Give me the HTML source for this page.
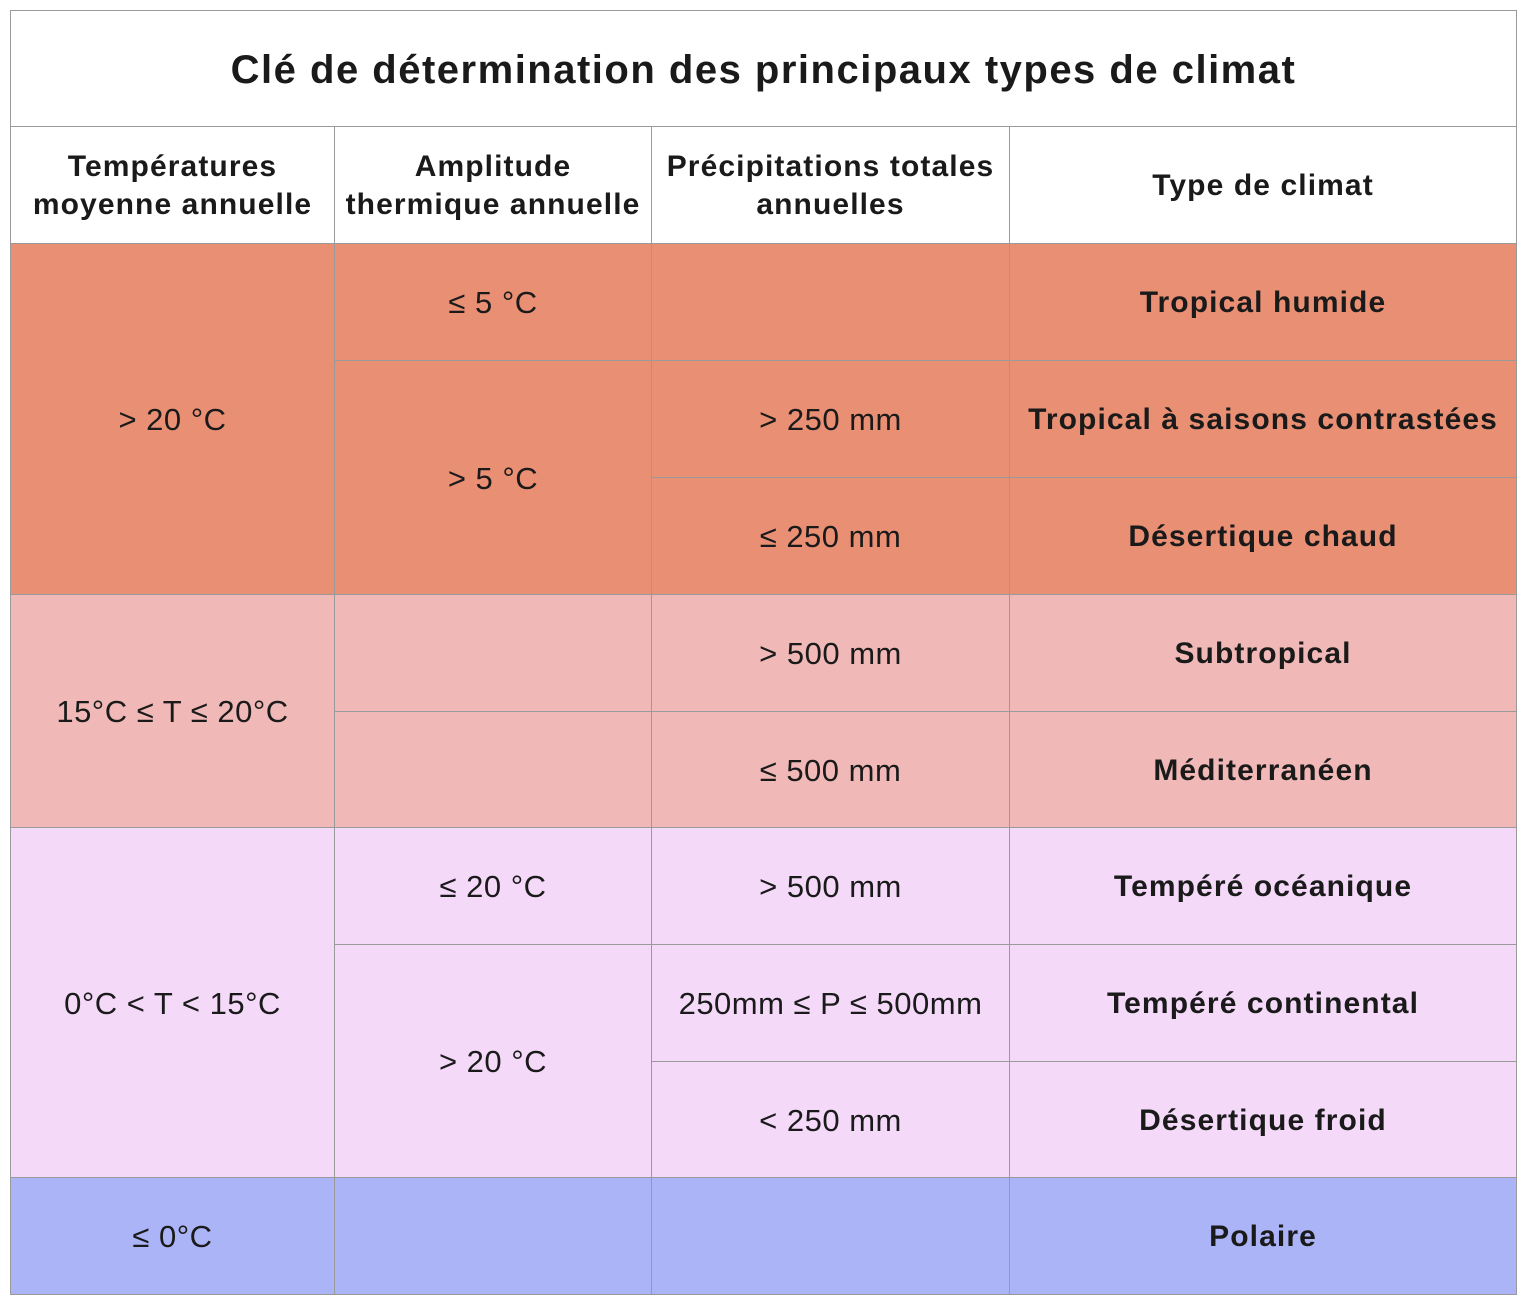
<!DOCTYPE html>
<html><head><meta charset="utf-8"><style>
html,body{margin:0;padding:0;background:#fff;width:1524px;height:1302px;overflow:hidden}
.c{position:absolute;box-sizing:border-box;border:1.5px solid #9a9a9a;display:flex;align-items:center;justify-content:center;text-align:center;font-family:"Liberation Sans",sans-serif;color:#1a1a1a;font-size:31px;letter-spacing:0.5px;line-height:38px;padding-top:2px}
.b{font-weight:bold;font-size:30px;letter-spacing:1.1px}
.h{font-weight:bold;font-size:30px;letter-spacing:1.1px;background:#fff}
.o{background:#e98f74}.p{background:#f0b9b7}.l{background:#f4d9f9}.u{background:#aab4f6}
</style></head><body>
<div id="t"></div>
<script>
const X=[10,334,651,1009,1516];
const Y=[10,126,243,360,477,594,711,827,944,1061,1177,1294];
// [col0, col1, row0, row1, class, text, name]
const cells=[
[0,4,0,1,'h','<span style="font-size:40px;letter-spacing:1.5px">Clé de détermination des principaux types de climat</span>','table-title'],
[0,1,1,2,'h','Températures<br>moyenne annuelle','header-temperature'],
[1,2,1,2,'h','Amplitude<br>thermique annuelle','header-amplitude'],
[2,3,1,2,'h','Précipitations totales<br>annuelles','header-precipitation'],
[3,4,1,2,'h','Type de climat','header-climate-type'],
[0,1,2,5,'o','&gt; 20 °C','temp-above-20'],
[1,2,2,3,'o','≤ 5 °C','amp-le-5'],
[2,3,2,3,'o','','precip-empty-1'],
[3,4,2,3,'o b','Tropical humide','climate-tropical-humide'],
[1,2,3,5,'o','&gt; 5 °C','amp-gt-5'],
[2,3,3,4,'o','&gt; 250 mm','precip-gt-250'],
[3,4,3,4,'o b','Tropical à saisons contrastées','climate-tropical-saisons'],
[2,3,4,5,'o','≤ 250 mm','precip-le-250'],
[3,4,4,5,'o b','Désertique chaud','climate-desertique-chaud'],
[0,1,5,7,'p','15°C ≤ T ≤ 20°C','temp-15-20'],
[1,2,5,6,'p','','amp-empty-1'],
[2,3,5,6,'p','&gt; 500 mm','precip-gt-500'],
[3,4,5,6,'p b','Subtropical','climate-subtropical'],
[1,2,6,7,'p','','amp-empty-2'],
[2,3,6,7,'p','≤ 500 mm','precip-le-500'],
[3,4,6,7,'p b','Méditerranéen','climate-mediterraneen'],
[0,1,7,10,'l','0°C &lt; T &lt; 15°C','temp-0-15'],
[1,2,7,8,'l','≤ 20 °C','amp-le-20'],
[2,3,7,8,'l','&gt; 500 mm','precip-gt-500-b'],
[3,4,7,8,'l b','Tempéré océanique','climate-tempere-oceanique'],
[1,2,8,10,'l','&gt; 20 °C','amp-gt-20'],
[2,3,8,9,'l','250mm ≤ P ≤ 500mm','precip-250-500'],
[3,4,8,9,'l b','Tempéré continental','climate-tempere-continental'],
[2,3,9,10,'l','&lt; 250 mm','precip-lt-250'],
[3,4,9,10,'l b','Désertique froid','climate-desertique-froid'],
[0,1,10,11,'u','≤ 0°C','temp-le-0'],
[1,2,10,11,'u','','amp-empty-3'],
[2,3,10,11,'u','','precip-empty-2'],
[3,4,10,11,'u b','Polaire','climate-polaire']
];
const root=document.getElementById('t');
for(const c of cells){
 const d=document.createElement('div');
 d.className='c '+c[4];
 d.style.left=X[c[0]]+'px';d.style.width=(X[c[1]]-X[c[0]]+1)+'px';
 d.style.top=Y[c[2]]+'px';d.style.height=(Y[c[3]]-Y[c[2]]+1)+'px';
 d.innerHTML=c[5];
 
 
 root.appendChild(d);
}
</script>
</body></html>
